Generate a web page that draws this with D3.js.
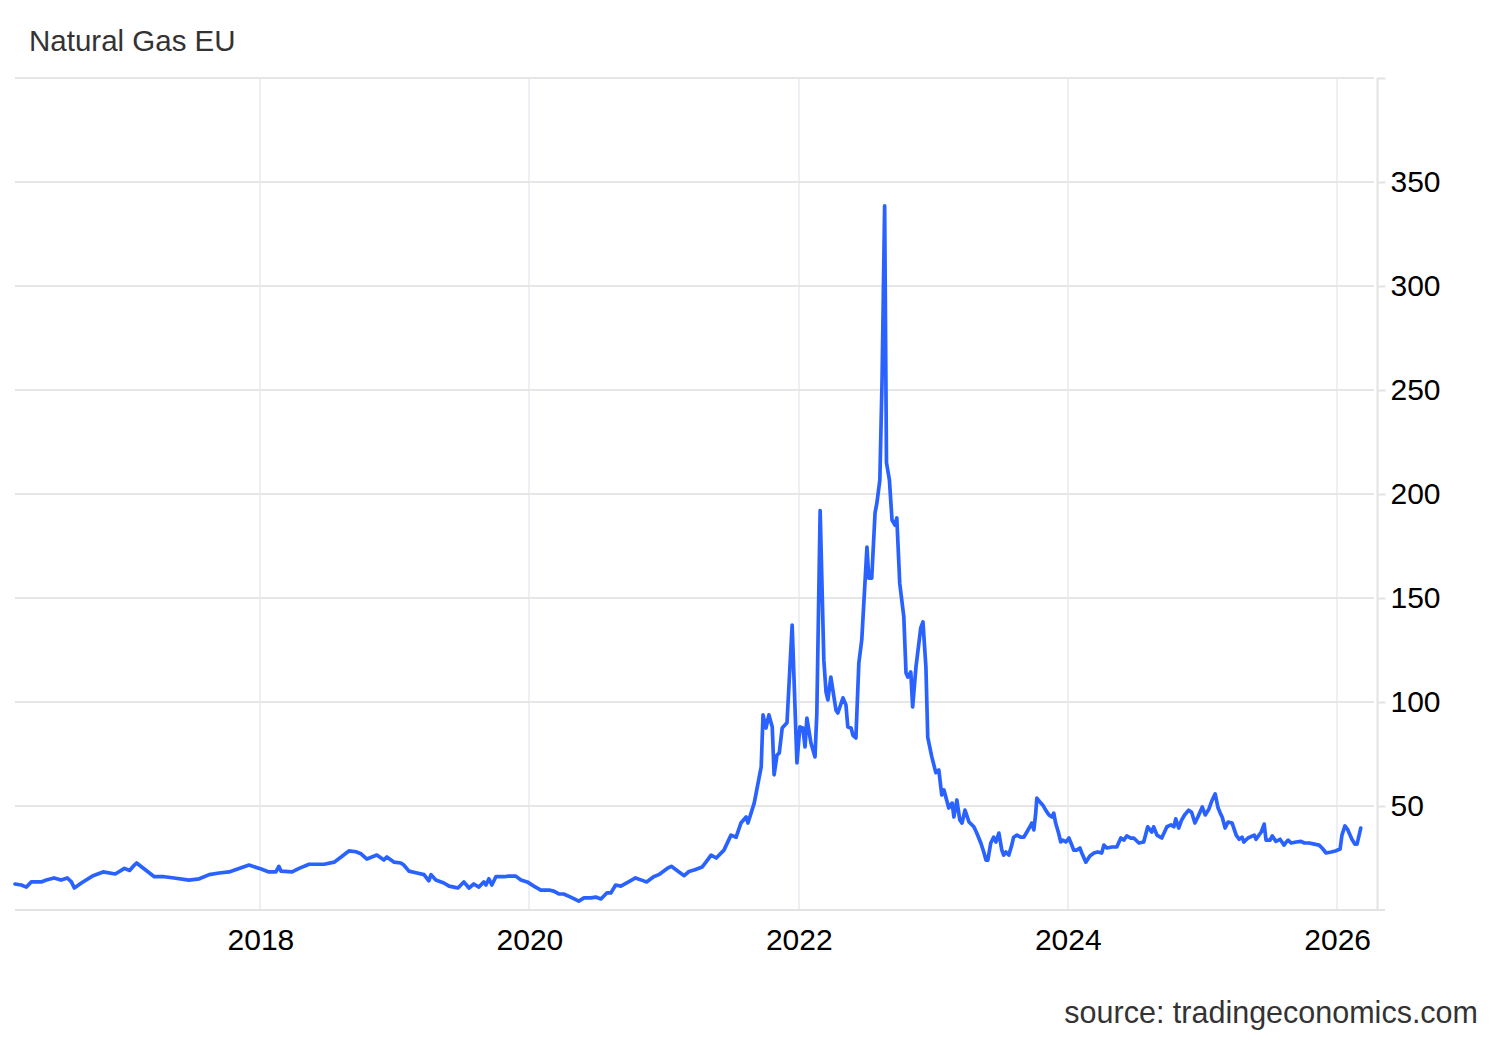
<!DOCTYPE html>
<html>
<head>
<meta charset="utf-8">
<script src="https://cdn.jsdelivr.net/npm/d3@7"></script>
<style>
  html, body { margin: 0; padding: 0; background: #fff; }
  svg { display: block; font-family: "Liberation Sans", Arial, Helvetica, sans-serif; }
</style>
</head>
<body>
<svg id="chart" width="1500" height="1040"></svg>
<script>
const title = "Natural Gas EU";
const sourceText = "source: tradingeconomics.com";

const dates = [
  "2016-03-06","2016-03-23","2016-04-06","2016-04-19","2016-05-16","2016-05-30","2016-06-20","2016-07-09","2016-07-26","2016-08-06","2016-08-14","2016-09-02","2016-10-02","2016-10-31","2016-12-03","2016-12-28",
  "2017-01-11","2017-01-24","2017-01-30","2017-02-20","2017-03-19","2017-04-15","2017-05-12","2017-06-21","2017-07-19","2017-08-15","2017-09-11","2017-10-08","2017-11-04","2017-12-01",
  "2018-01-03","2018-01-24","2018-02-12","2018-02-20","2018-02-26","2018-03-28","2018-04-16","2018-05-13","2018-06-23","2018-07-20","2018-08-08","2018-08-29","2018-09-17","2018-10-01","2018-10-17","2018-11-13","2018-12-02","2018-12-10","2018-12-30",
  "2019-01-17","2019-01-25","2019-02-08","2019-03-02","2019-03-21","2019-04-03","2019-04-09","2019-04-22","2019-05-14","2019-05-28","2019-06-10","2019-06-21","2019-07-07","2019-07-21","2019-08-03","2019-08-17","2019-08-30","2019-09-05","2019-09-13","2019-09-21","2019-10-02","2019-10-24","2019-11-06","2019-11-25","2019-12-09","2019-12-26",
  "2020-01-13","2020-02-01","2020-02-23","2020-03-07","2020-03-21","2020-04-03","2020-04-22","2020-05-14","2020-05-28","2020-06-16","2020-06-29","2020-07-13","2020-07-29","2020-08-09","2020-08-22","2020-09-05","2020-09-26","2020-10-15","2020-11-06","2020-11-14","2020-12-03","2020-12-17",
  "2021-01-09","2021-01-20","2021-02-10","2021-02-24","2021-03-09","2021-03-23","2021-04-14","2021-04-24","2021-05-08","2021-05-22","2021-06-12","2021-07-01","2021-07-15","2021-07-28","2021-08-11","2021-08-16","2021-09-02","2021-09-21","2021-09-26","2021-10-04","2021-10-12","2021-10-21","2021-10-26","2021-11-03","2021-11-09","2021-11-17","2021-11-30","2021-12-14","2021-12-27",
  "2022-01-04","2022-01-12","2022-01-18","2022-01-23","2022-02-03","2022-02-14","2022-02-19","2022-02-28","2022-03-10","2022-03-16","2022-03-21","2022-03-29","2022-04-12","2022-04-17","2022-05-01","2022-05-09","2022-05-14","2022-05-23","2022-05-28","2022-06-05","2022-06-13","2022-06-21","2022-07-05","2022-07-10","2022-07-18","2022-07-27","2022-08-01","2022-08-09","2022-08-15","2022-08-22","2022-08-27","2022-09-04","2022-09-11","2022-09-19","2022-09-24","2022-10-02","2022-10-13","2022-10-19","2022-10-24","2022-11-01","2022-11-06","2022-11-15","2022-11-28","2022-12-04","2022-12-12","2022-12-17","2022-12-28",
  "2023-01-08","2023-01-16","2023-01-24","2023-01-30","2023-02-12","2023-02-21","2023-02-26","2023-03-06","2023-03-14","2023-03-20","2023-03-28","2023-04-08","2023-04-21","2023-04-29","2023-05-10","2023-05-18","2023-05-24","2023-05-29","2023-06-06","2023-06-14","2023-06-20","2023-06-28","2023-07-06","2023-07-11","2023-07-17","2023-07-25","2023-08-02","2023-08-07","2023-08-16","2023-08-26","2023-09-04","2023-09-12","2023-09-23","2023-09-25","2023-10-01","2023-10-06","2023-10-09","2023-10-20","2023-10-25","2023-11-02","2023-11-11","2023-11-19","2023-11-24","2023-11-29","2023-12-07","2023-12-13","2023-12-18","2023-12-27",
  "2024-01-04","2024-01-12","2024-01-17","2024-01-25","2024-02-03","2024-02-08","2024-02-19","2024-03-01","2024-03-12","2024-03-22","2024-04-02","2024-04-08","2024-04-16","2024-04-30","2024-05-13","2024-05-24","2024-06-01","2024-06-09","2024-06-20","2024-06-28","2024-07-12","2024-07-25","2024-08-05","2024-08-16","2024-08-21","2024-08-30","2024-09-12","2024-09-26","2024-10-07","2024-10-15","2024-10-20","2024-10-28","2024-11-05","2024-11-13","2024-11-24","2024-12-02","2024-12-11","2024-12-19","2024-12-31",
  "2025-01-08","2025-01-18","2025-01-27","2025-02-04","2025-02-12","2025-02-20","2025-02-23","2025-03-03","2025-03-11","2025-03-22","2025-04-02","2025-04-10","2025-04-18","2025-04-23","2025-05-04","2025-05-21","2025-05-26","2025-06-09","2025-06-17","2025-06-22","2025-07-03","2025-07-09","2025-07-19","2025-07-30","2025-08-10","2025-08-16","2025-08-21","2025-08-29","2025-09-12","2025-09-25","2025-10-04","2025-10-17","2025-10-31","2025-11-13","2025-11-21","2025-12-02","2025-12-16","2025-12-27",
  "2026-01-09","2026-01-14","2026-01-22","2026-01-30","2026-02-10","2026-02-18","2026-02-24","2026-03-06"
];

const prices = [
  12.5,12,11,13.5,13.5,14.4,15.4,14.4,15.4,13.5,10.6,13,16.3,18.3,17.3,20,
  19,21.6,22.6,19.7,16,16,15.4,14.4,15,17,17.8,18.3,20,21.6,
  19.7,18.3,18.3,21,18.7,18.3,20,22,22,23,25.5,28.4,28,27,24.5,26.4,24,25.5,23,
  22.6,21.6,18.7,17.8,17,14,17,14.4,13,11.5,11,10.6,13.5,10.6,12.5,11,13.5,12,15,12,16,16,16.3,16.3,14.4,13.5,
  11.5,9.6,9.6,9.1,7.7,7.7,6.2,4.3,5.8,5.8,6.2,5.3,8.2,8.2,12,11.5,13.5,15.4,14,13.5,16,17,
  20,21,18.3,16.5,18.5,19.2,20.7,23,26.4,25,28.8,36,35,41.8,44.7,41.8,51.4,68.8,93.8,87.5,93.8,88,65,74.5,75.5,87.5,90,137,70.7,
  88,87.5,78.4,92.3,80.3,73.6,94.7,192,120,104.8,101,112,96,94.7,102,98.6,88,87.5,84,82.7,118.8,130,174.5,159.6,159.6,191,195.7,206.7,254.8,338.5,215,206.7,187.5,185,188.5,157,141,114,112,114.4,97.6,116.8,135.6,138.5,116.8,83,73.6,
  66,67.3,55.3,57.7,49,51.4,44.7,52.9,43.3,41.8,48,42.3,40,37,32.2,27.9,24,24,32.2,35,32.7,37,28.8,26.4,27.9,26.4,31.2,35,36,35,35,37.5,40.9,41.8,38.5,46.6,53.8,51.4,50.5,48,45.7,44.7,46.6,41.8,37,32.7,33.6,32.7,
  34.6,31.2,28.8,28.8,29.8,27.4,23,26,27.4,27.9,27.4,31.2,29.8,30.3,30.3,34.6,33.6,35.6,34.6,34.6,32.2,32.7,40,37.5,40,36,34.6,40,40.9,40,43.8,39.4,43.3,45.7,48,47,41.8,44.7,49.5,
  45.7,48.6,52.9,55.8,49,45.7,44.7,39.4,42.3,41.8,36,34,35,32.7,34.6,36,34,37.5,41.3,33.6,33.6,35.6,33,34,31.2,32.7,33.6,32.2,32.7,33,32.2,32.2,31.7,31.2,29.8,27.4,27.9,28.4,
  29.3,36,40.4,38.5,34,31.7,31.7,39.4
];

const xTickYears = [2018, 2020, 2022, 2024, 2026];
const yTickValues = [50, 100, 150, 200, 250, 300, 350];
const yGridValues = [50, 100, 150, 200, 250, 300, 350, 400];

(function () {
const parse = d3.timeParse("%Y-%m-%d");
const data = dates.map((d, i) => ({ date: parse(d), value: prices[i] }));

const svg = d3.select("#chart");
const plotLeft = 15, plotRight = 1374, plotTop = 78, plotBottom = 910, axisX = 1377.5;

const x = d3.scaleTime()
  .domain([parse("2016-03-06"), parse("2026-04-11")])
  .range([plotLeft, plotRight]);
const y = d3.scaleLinear().domain([0, 400]).range([plotBottom, plotTop]);

// vertical gridlines
svg.append("g").selectAll("line")
  .data(xTickYears)
  .join("line")
  .attr("x1", d => Math.round(x(new Date(d, 0, 1))))
  .attr("x2", d => Math.round(x(new Date(d, 0, 1))))
  .attr("y1", plotTop).attr("y2", plotBottom)
  .attr("stroke", "#eceff3").attr("stroke-width", 2);

// horizontal gridlines
svg.append("g").selectAll("line")
  .data(yGridValues)
  .join("line")
  .attr("x1", plotLeft).attr("x2", plotRight)
  .attr("y1", d => y(d)).attr("y2", d => y(d))
  .attr("stroke", "#e6e6e6").attr("stroke-width", 2);

// bottom axis line
svg.append("line")
  .attr("x1", plotLeft).attr("x2", 1385)
  .attr("y1", plotBottom).attr("y2", plotBottom)
  .attr("stroke", "#e3e3e3").attr("stroke-width", 2);

// right y axis
const yAxis = d3.axisRight(y)
  .tickValues(yGridValues)
  .tickSize(8)
  .tickPadding(5)
  .tickFormat(d => yTickValues.includes(d) ? d : "");
const gy = svg.append("g").attr("transform", `translate(${axisX},0)`).call(yAxis);
gy.select(".domain").attr("d", `M0,${plotTop}V${plotBottom}`).attr("stroke", "#e3e3e3").attr("stroke-width", 2);
gy.selectAll(".tick line").attr("stroke", "#e3e3e3").attr("stroke-width", 2);
gy.selectAll(".tick text")
  .attr("font-size", 30)
  .attr("font-family", "'Liberation Sans', Arial, Helvetica, sans-serif")
  .attr("fill", "#000")
  .attr("dy", "0.3em");

// x axis labels
const xAxis = d3.axisBottom(x)
  .tickValues(xTickYears.map(yr => new Date(yr, 0, 1)))
  .tickSize(0)
  .tickPadding(19)
  .tickFormat(d3.timeFormat("%Y"));
const gx = svg.append("g").attr("transform", `translate(0,${plotBottom})`).call(xAxis);
gx.select(".domain").remove();
gx.selectAll(".tick text")
  .attr("font-size", 30)
  .attr("font-family", "'Liberation Sans', Arial, Helvetica, sans-serif")
  .attr("fill", "#000");

// line
const line = d3.line()
  .x(d => x(d.date))
  .y(d => y(d.value));

svg.append("path")
  .datum(data)
  .attr("d", line)
  .attr("fill", "none")
  .attr("stroke", "#2962ff")
  .attr("stroke-width", 3.7)
  .attr("stroke-linejoin", "round")
  .attr("stroke-linecap", "round");

// title
svg.append("text")
  .attr("x", 29).attr("y", 51)
  .attr("font-size", 29.5)
  .attr("fill", "#333")
  .text(title);

// source
svg.append("text")
  .attr("x", 1478).attr("y", 1023)
  .attr("text-anchor", "end")
  .attr("font-size", 30.5)
  .attr("fill", "#333")
  .text(sourceText);
})();
</script>
</body>
</html>
